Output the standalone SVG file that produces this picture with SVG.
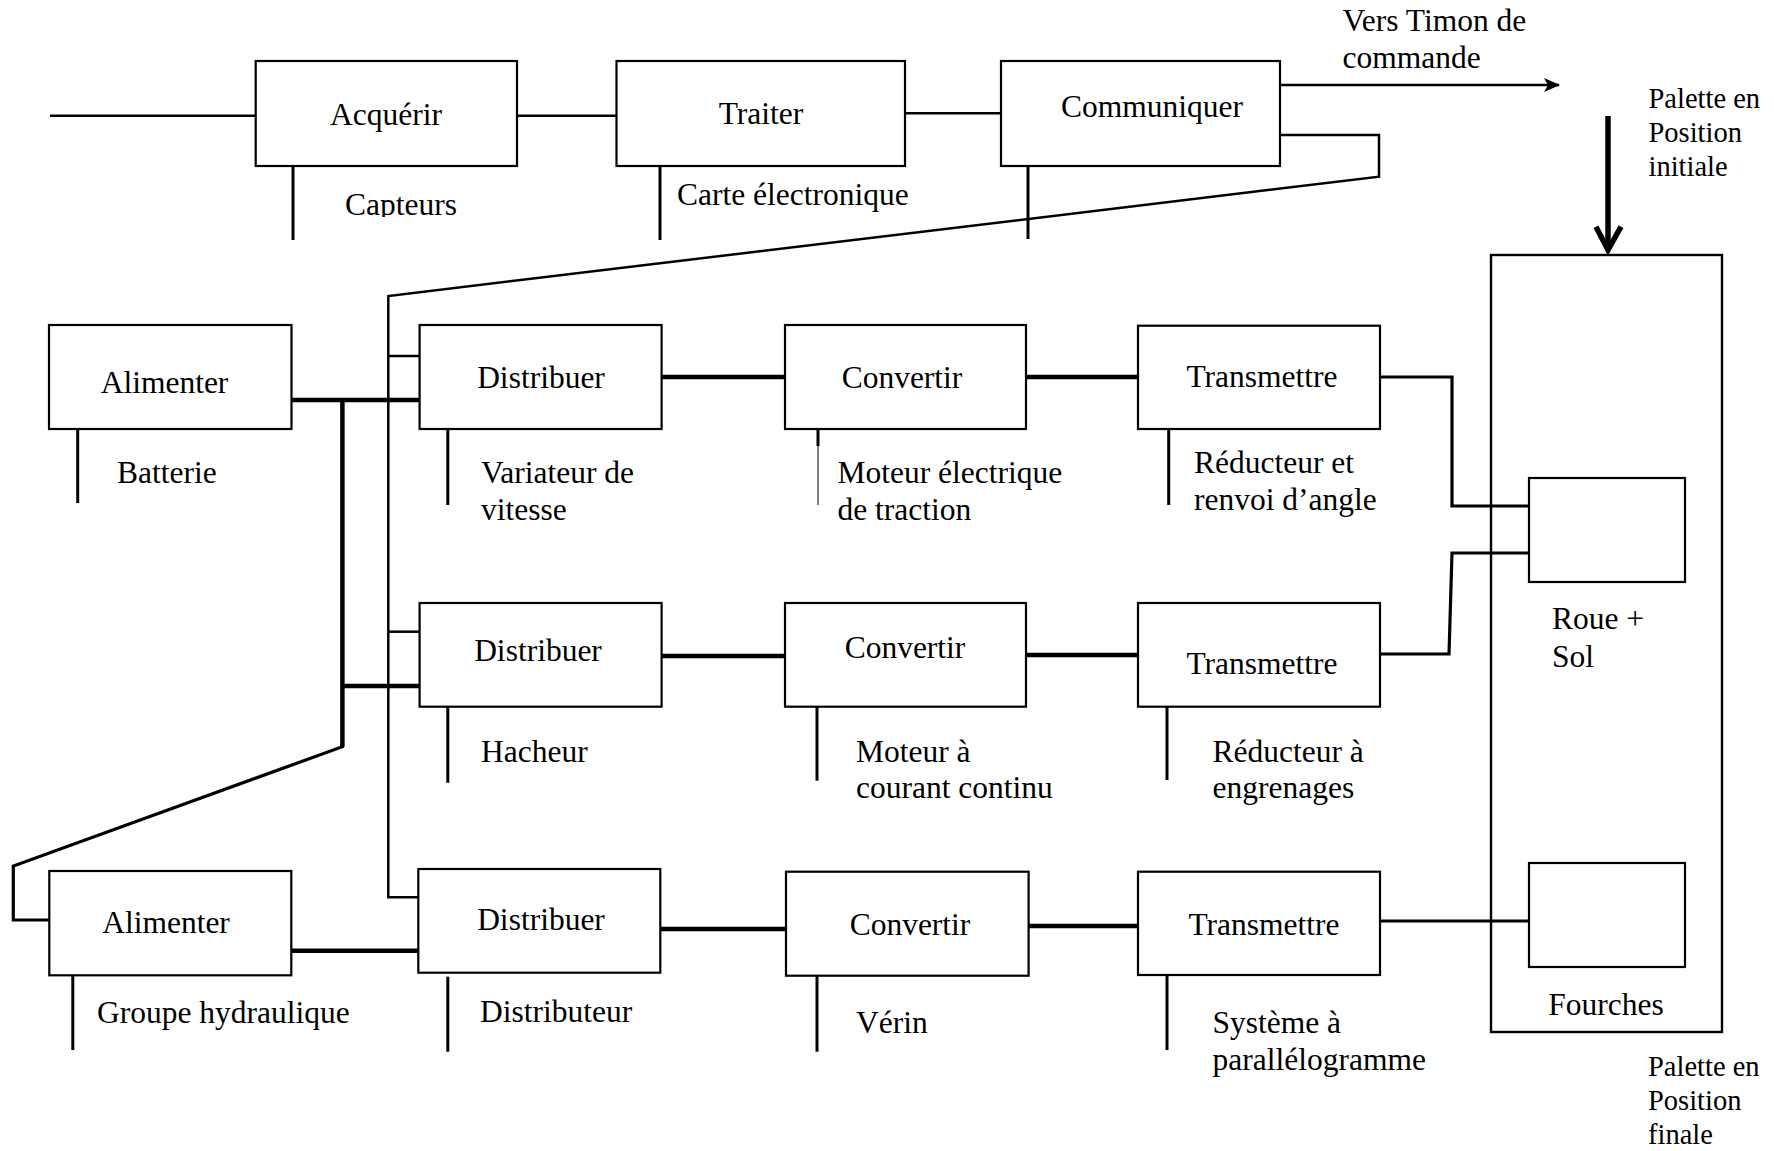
<svg xmlns="http://www.w3.org/2000/svg" width="1774" height="1151" viewBox="0 0 1774 1151">
<style>
  .box { fill: #fff; stroke: #000; stroke-width: 2.2; }
  .t { font-family: "Liberation Serif", "Times New Roman", serif; font-size: 31.5px; fill: #000; }
  .tm { text-anchor: middle; }
  .ts { font-family: "Liberation Serif", "Times New Roman", serif; font-size: 28.5px; fill: #000; }
  .stub { stroke: #000; stroke-width: 3; fill: none; }
  .thin { stroke: #000; stroke-width: 2.5; fill: none; }
  .thick { stroke: #000; stroke-width: 4.5; fill: none; }
  .med { stroke: #000; stroke-width: 3.2; fill: none; }
</style>
<defs>
  <marker id="arr" viewBox="0 0 16 14" refX="15" refY="7" markerWidth="16" markerHeight="14" markerUnits="userSpaceOnUse" orient="auto">
    <path d="M0,0 L16,7 L0,14 L4,7 Z" fill="#000"/>
  </marker>
  <clipPath id="clipCapteurs"><rect x="300" y="150" width="200" height="67"/></clipPath>
</defs>
<rect width="1774" height="1151" fill="#fff"/>

<g id="connectors">
  <line class="thin" x1="50" y1="115.7" x2="255.7" y2="115.7"/>
  <line class="thin" x1="517" y1="115.7" x2="616.5" y2="115.7"/>
  <line class="thin" x1="905" y1="113.3" x2="1001" y2="113.3"/>
  <line class="thin" x1="1280" y1="85" x2="1559" y2="85" marker-end="url(#arr)"/>
  <path class="thin" d="M1280,135 L1379,135 L1379,176.7 L388.3,296 L388.3,897.3 L418.3,897.3"/>
  <line class="thin" x1="388.3" y1="356" x2="419.6" y2="356"/>
  <line class="thin" x1="388.3" y1="631.7" x2="419.6" y2="631.7"/>
  <line class="thick" x1="291.5" y1="400" x2="419.6" y2="400"/>
  <path class="thick" d="M342.4,400 L342.4,746.7"/>
  <path class="med" d="M342.4,744 L342.4,746.7 L13.3,866 L13.3,920 L49.3,920"/>
  <line class="thick" x1="342.4" y1="686" x2="419.6" y2="686"/>
  <line class="thick" x1="661.6" y1="377" x2="785" y2="377"/>
  <line class="thick" x1="1026" y1="377" x2="1138" y2="377"/>
  <line class="thick" x1="661.6" y1="656" x2="785" y2="656"/>
  <line class="thick" x1="1026" y1="655" x2="1138" y2="655"/>
  <line class="thick" x1="291.5" y1="950.7" x2="418.3" y2="950.7"/>
  <line class="thick" x1="660.3" y1="929" x2="786" y2="929"/>
  <line class="thick" x1="1028.6" y1="926" x2="1138" y2="926"/>
  <path class="med" d="M1380,377 L1452,377 L1452,506 L1532,506"/>
  <path class="med" d="M1380,654 L1449,654 L1452,553 L1529,553"/>
  <line class="med" x1="1380" y1="921" x2="1529" y2="921"/>
  <line stroke="#000" stroke-width="5.5" x1="1608" y1="116" x2="1608" y2="248"/>
  <path d="M1596,226.7 L1608,250 L1621,226.7" fill="none" stroke="#000" stroke-width="5.5" stroke-linejoin="miter"/>
</g>

<g id="n-acquerir">
  <rect class="box" x="255.7" y="61" width="261.3" height="105"/>
  <text class="t tm" x="386" y="125">Acquérir</text>
  <line class="stub" x1="293" y1="166" x2="293" y2="240"/>
  <text class="t" x="345" y="215" clip-path="url(#clipCapteurs)">Capteurs</text>
</g>
<g id="n-traiter">
  <rect class="box" x="616.5" y="61" width="288.5" height="105"/>
  <text class="t tm" x="761" y="124">Traiter</text>
  <line class="stub" x1="660" y1="166" x2="660" y2="240"/>
  <text class="t" x="677" y="205">Carte électronique</text>
</g>
<g id="n-communiquer">
  <rect class="box" x="1001" y="61" width="279" height="105"/>
  <text class="t tm" x="1152" y="117">Communiquer</text>
  <line class="stub" x1="1028" y1="166" x2="1028" y2="239"/>
</g>
<g id="n-timon">
  <text class="t" x="1342.5" y="31">Vers Timon de</text>
  <text class="t" x="1342.5" y="68">commande</text>
</g>
<g id="n-palette-initiale">
  <text class="ts" x="1648.5" y="108">Palette en</text>
  <text class="ts" x="1648.5" y="142">Position</text>
  <text class="ts" x="1648.5" y="176">initiale</text>
</g>

<g id="n-alimenter1">
  <rect class="box" x="49" y="325" width="242.5" height="104"/>
  <text class="t tm" x="164.5" y="393">Alimenter</text>
  <line class="stub" x1="77.7" y1="429" x2="77.7" y2="503"/>
  <text class="t" x="117" y="483">Batterie</text>
</g>
<g id="n-distribuer1">
  <rect class="box" x="419.6" y="325" width="242" height="104"/>
  <text class="t tm" x="541" y="388">Distribuer</text>
  <line class="stub" x1="447.8" y1="429" x2="447.8" y2="505"/>
  <text class="t" x="481" y="483">Variateur de</text>
  <text class="t" x="481" y="520">vitesse</text>
</g>
<g id="n-convertir1">
  <rect class="box" x="785" y="325" width="241" height="104"/>
  <text class="t tm" x="902" y="388">Convertir</text>
  <line class="stub" x1="818" y1="429" x2="818" y2="446"/>
  <line stroke="#000" stroke-width="1" x1="818" y1="445" x2="818" y2="505"/>
  <text class="t" x="837.5" y="483">Moteur électrique</text>
  <text class="t" x="837.5" y="520">de traction</text>
</g>
<g id="n-transmettre1">
  <rect class="box" x="1138" y="325.7" width="242" height="103.3"/>
  <text class="t tm" x="1262" y="387">Transmettre</text>
  <line class="stub" x1="1168.7" y1="429" x2="1168.7" y2="505"/>
  <text class="t" x="1194" y="473">Réducteur et</text>
  <text class="t" x="1194" y="510">renvoi d’angle</text>
</g>

<g id="n-distribuer2">
  <rect class="box" x="419.6" y="603" width="242" height="103.7"/>
  <text class="t tm" x="538" y="661">Distribuer</text>
  <line class="stub" x1="447.8" y1="707" x2="447.8" y2="782.7"/>
  <text class="t" x="481" y="762">Hacheur</text>
</g>
<g id="n-convertir2">
  <rect class="box" x="785" y="603" width="241" height="103.7"/>
  <text class="t tm" x="905" y="658">Convertir</text>
  <line class="stub" x1="817" y1="707" x2="817" y2="780.7"/>
  <text class="t" x="856" y="762">Moteur à</text>
  <text class="t" x="856" y="798">courant continu</text>
</g>
<g id="n-transmettre2">
  <rect class="box" x="1138" y="603" width="242" height="103.7"/>
  <text class="t tm" x="1262" y="674">Transmettre</text>
  <line class="stub" x1="1167" y1="707" x2="1167" y2="780"/>
  <text class="t" x="1212.5" y="762">Réducteur à</text>
  <text class="t" x="1212.5" y="798">engrenages</text>
</g>

<g id="n-alimenter2">
  <rect class="box" x="49.3" y="871" width="242" height="104.3"/>
  <text class="t tm" x="166" y="933">Alimenter</text>
  <line class="stub" x1="72.8" y1="975" x2="72.8" y2="1050"/>
  <text class="t" x="97" y="1023">Groupe hydraulique</text>
</g>
<g id="n-distribuer3">
  <rect class="box" x="418.3" y="869" width="242" height="103.7"/>
  <text class="t tm" x="541" y="930">Distribuer</text>
  <line class="stub" x1="447.8" y1="976.7" x2="447.8" y2="1051.7"/>
  <text class="t" x="480" y="1022">Distributeur</text>
</g>
<g id="n-convertir3">
  <rect class="box" x="786" y="871.7" width="242.6" height="104"/>
  <text class="t tm" x="910" y="935">Convertir</text>
  <line class="stub" x1="817" y1="976" x2="817" y2="1051.7"/>
  <text class="t" x="856" y="1033">Vérin</text>
</g>
<g id="n-transmettre3">
  <rect class="box" x="1138" y="871.7" width="242" height="103.3"/>
  <text class="t tm" x="1264" y="935">Transmettre</text>
  <line class="stub" x1="1167" y1="975" x2="1167" y2="1050"/>
  <text class="t" x="1212.5" y="1033">Système à</text>
  <text class="t" x="1212.5" y="1070">parallélogramme</text>
</g>

<g id="n-palette">
  <rect x="1491" y="255" width="231" height="777" fill="none" stroke="#000" stroke-width="2.4"/>
</g>
<g id="n-roue">
  <rect class="box" x="1529" y="478" width="156" height="104"/>
  <text class="t" x="1552" y="629">Roue +</text>
  <text class="t" x="1552" y="667">Sol</text>
</g>
<g id="n-fourches">
  <rect class="box" x="1529" y="863" width="156" height="104"/>
  <text class="t tm" x="1606" y="1015">Fourches</text>
</g>
<g id="n-palette-finale">
  <text class="ts" x="1648" y="1076">Palette en</text>
  <text class="ts" x="1648" y="1110">Position</text>
  <text class="ts" x="1648" y="1144">finale</text>
</g>
</svg>
